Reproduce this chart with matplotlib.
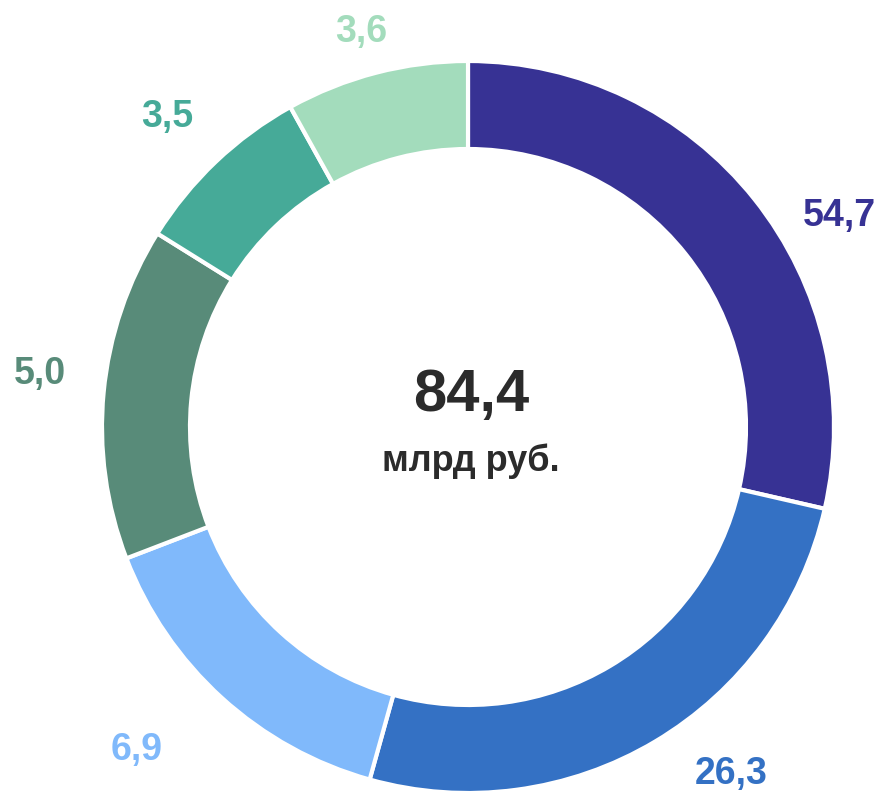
import numpy as np
import matplotlib.pyplot as plt

# slice sizes (billion rub, estimated from the arc lengths) and the printed labels
shares = [24.1, 21.7, 12.5, 12.4, 6.8, 6.8]
labels = ['54,7', '26,3', '6,9', '5,0', '3,5', '3,6']
colors = ['#373294', '#3471c4', '#80b9fb', '#588b79', '#46aa98', '#a3dcbc']
total_text = '84,4'
unit_text = 'млрд руб.'

# label placement: polar angle (deg) and radius as fraction of the outer radius
label_angles = [29.9, -52.6, -136.0, 172.5, 133.9, 105.0]
label_radii = [1.172, 1.184, 1.257, 1.180, 1.186, 1.126]

W, H = 881, 791
cx, cy = 468, H - 427
R = 366
ring = 88

plt.rcParams['font.family'] = ['Liberation Sans', 'DejaVu Sans']

fig = plt.figure(figsize=(W / 100, H / 100), dpi=100)
ax = fig.add_axes([0, 0, 1, 1])

ax.pie(shares, radius=R, center=(cx, cy), startangle=90, counterclock=False,
       colors=colors, wedgeprops=dict(width=ring, edgecolor='white', linewidth=3))

# value labels around the ring
for lab, col, a, rf in zip(labels, colors, label_angles, label_radii):
    x = cx + rf * R * np.cos(np.radians(a))
    y = cy + rf * R * np.sin(np.radians(a))
    ax.text(x, y - 13, lab, color=col, fontsize=27, fontweight='bold',
            ha='center', va='baseline')

# total in the middle
ax.text(cx + 3, H - 411, total_text, color='#2b2b2b', fontsize=43, fontweight='bold',
        ha='center', va='baseline')
ax.text(cx + 3, H - 471, unit_text, color='#2b2b2b', fontsize=26, fontweight='bold',
        ha='center', va='baseline')

ax.set_xlim(0, W)
ax.set_ylim(0, H)
ax.set_aspect('equal')
ax.axis('off')

fig.savefig('out.png', dpi=100)
